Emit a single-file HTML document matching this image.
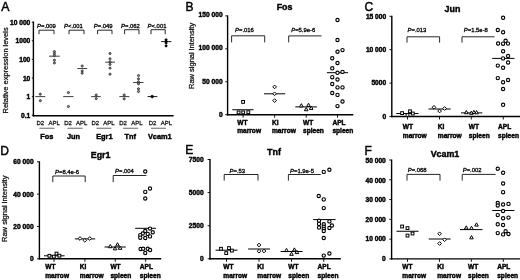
<!DOCTYPE html>
<html lang="en">
<head>
<meta charset="utf-8">
<title>Figure</title>
<style>
html,body{margin:0;padding:0;background:#fff;}
body{width:520px;height:280px;overflow:hidden;}
svg{display:block;}
svg text{font-family:'Liberation Sans', Arial, sans-serif;}
</style>
</head>
<body>
<svg width="520" height="280" viewBox="0 0 520 280">
<defs><filter id="soft" x="0" y="0" width="520" height="280" filterUnits="userSpaceOnUse"><feGaussianBlur stdDeviation="0.3"/></filter></defs>
<rect x="0" y="0" width="520" height="280" fill="#fff"/>
<g filter="url(#soft)">
<text x="1.30" y="10.70" font-size="12.3" font-weight="normal" text-anchor="start" fill="#000" stroke="#000" stroke-width="0.45">A</text>
<line x1="33.40" y1="21.50" x2="33.40" y2="116.40" stroke="#000" stroke-width="1.4" stroke-linecap="butt"/>
<line x1="32.70" y1="115.70" x2="173.60" y2="115.70" stroke="#000" stroke-width="1.4" stroke-linecap="butt"/>
<line x1="31.80" y1="115.20" x2="33.40" y2="115.20" stroke="#000" stroke-width="0.9" stroke-linecap="butt"/>
<text x="30.30" y="117.85" font-size="6.65" font-weight="bold" text-anchor="end" fill="#000" stroke="#000" stroke-width="0.42">0.1</text>
<line x1="31.80" y1="96.60" x2="33.40" y2="96.60" stroke="#000" stroke-width="0.9" stroke-linecap="butt"/>
<text x="30.30" y="99.25" font-size="6.65" font-weight="bold" text-anchor="end" fill="#000" stroke="#000" stroke-width="0.42">1</text>
<line x1="31.80" y1="78.00" x2="33.40" y2="78.00" stroke="#000" stroke-width="0.9" stroke-linecap="butt"/>
<text x="30.30" y="80.65" font-size="6.65" font-weight="bold" text-anchor="end" fill="#000" stroke="#000" stroke-width="0.42">10</text>
<line x1="31.80" y1="59.40" x2="33.40" y2="59.40" stroke="#000" stroke-width="0.9" stroke-linecap="butt"/>
<text x="30.30" y="62.05" font-size="6.65" font-weight="bold" text-anchor="end" fill="#000" stroke="#000" stroke-width="0.42">100</text>
<line x1="31.80" y1="40.80" x2="33.40" y2="40.80" stroke="#000" stroke-width="0.9" stroke-linecap="butt"/>
<text x="30.30" y="43.45" font-size="6.65" font-weight="bold" text-anchor="end" fill="#000" stroke="#000" stroke-width="0.42">1000</text>
<line x1="31.80" y1="22.20" x2="33.40" y2="22.20" stroke="#000" stroke-width="0.9" stroke-linecap="butt"/>
<text x="30.30" y="24.85" font-size="6.65" font-weight="bold" text-anchor="end" fill="#000" stroke="#000" stroke-width="0.42">10 000</text>
<text x="7.60" y="70.40" font-size="7.45" font-weight="normal" text-anchor="middle" fill="#111" stroke="#111" stroke-width="0.26" transform="rotate(-90 7.60 70.40)">Relative expression levels</text>
<polyline points="39.00,34.20 39.00,30.20 54.00,30.20 54.00,34.20" fill="none" stroke="#000" stroke-width="0.85" stroke-linejoin="miter"/>
<text x="37.00" y="27.60" font-size="5.9" fill="#000" stroke="#000" stroke-width="0.3"><tspan font-style="italic">P</tspan>=.009</text>
<polyline points="69.00,34.20 69.00,30.20 84.00,30.20 84.00,34.20" fill="none" stroke="#000" stroke-width="0.85" stroke-linejoin="miter"/>
<text x="64.00" y="27.60" font-size="5.9" fill="#000" stroke="#000" stroke-width="0.3"><tspan font-style="italic">P</tspan>&lt;.001</text>
<polyline points="97.60,34.20 97.60,30.20 112.00,30.20 112.00,34.20" fill="none" stroke="#000" stroke-width="0.85" stroke-linejoin="miter"/>
<text x="93.80" y="27.60" font-size="5.9" fill="#000" stroke="#000" stroke-width="0.3"><tspan font-style="italic">P</tspan>=.049</text>
<polyline points="124.60,34.20 124.60,29.70 139.00,29.70 139.00,34.20" fill="none" stroke="#000" stroke-width="0.85" stroke-linejoin="miter"/>
<text x="121.00" y="28.00" font-size="5.9" fill="#000" stroke="#000" stroke-width="0.3"><tspan font-style="italic">P</tspan>=.062</text>
<polyline points="151.00,34.20 151.00,29.70 165.20,29.70 165.20,34.20" fill="none" stroke="#000" stroke-width="0.85" stroke-linejoin="miter"/>
<text x="147.60" y="28.00" font-size="5.9" fill="#000" stroke="#000" stroke-width="0.3"><tspan font-style="italic">P</tspan>&lt;.001</text>
<text x="40.30" y="124.70" font-size="6.0" font-weight="normal" text-anchor="middle" fill="#111" stroke="#111" stroke-width="0.26">D2</text>
<text x="68.10" y="124.70" font-size="6.0" font-weight="normal" text-anchor="middle" fill="#111" stroke="#111" stroke-width="0.26">D2</text>
<text x="95.30" y="124.70" font-size="6.0" font-weight="normal" text-anchor="middle" fill="#111" stroke="#111" stroke-width="0.26">D2</text>
<text x="123.10" y="124.70" font-size="6.0" font-weight="normal" text-anchor="middle" fill="#111" stroke="#111" stroke-width="0.26">D2</text>
<text x="152.60" y="124.70" font-size="6.0" font-weight="normal" text-anchor="middle" fill="#111" stroke="#111" stroke-width="0.26">D2</text>
<text x="54.10" y="124.70" font-size="6.0" font-weight="normal" text-anchor="middle" fill="#111" stroke="#111" stroke-width="0.26">APL</text>
<text x="81.70" y="124.70" font-size="6.0" font-weight="normal" text-anchor="middle" fill="#111" stroke="#111" stroke-width="0.26">APL</text>
<text x="108.90" y="124.70" font-size="6.0" font-weight="normal" text-anchor="middle" fill="#111" stroke="#111" stroke-width="0.26">APL</text>
<text x="136.80" y="124.70" font-size="6.0" font-weight="normal" text-anchor="middle" fill="#111" stroke="#111" stroke-width="0.26">APL</text>
<text x="166.40" y="124.70" font-size="6.0" font-weight="normal" text-anchor="middle" fill="#111" stroke="#111" stroke-width="0.26">APL</text>
<line x1="39.40" y1="128.25" x2="54.40" y2="128.25" stroke="#111" stroke-width="0.65" stroke-linecap="butt"/>
<line x1="67.50" y1="128.25" x2="82.50" y2="128.25" stroke="#111" stroke-width="0.65" stroke-linecap="butt"/>
<line x1="96.50" y1="128.25" x2="111.30" y2="128.25" stroke="#111" stroke-width="0.65" stroke-linecap="butt"/>
<line x1="123.10" y1="128.25" x2="138.10" y2="128.25" stroke="#111" stroke-width="0.65" stroke-linecap="butt"/>
<line x1="151.20" y1="128.25" x2="166.00" y2="128.25" stroke="#111" stroke-width="0.65" stroke-linecap="butt"/>
<text x="46.90" y="138.60" font-size="7.4" font-weight="bold" text-anchor="middle" fill="#000" stroke="#000" stroke-width="0.42">Fos</text>
<text x="73.50" y="138.60" font-size="7.4" font-weight="bold" text-anchor="middle" fill="#000" stroke="#000" stroke-width="0.42">Jun</text>
<text x="104.40" y="138.60" font-size="7.4" font-weight="bold" text-anchor="middle" fill="#000" stroke="#000" stroke-width="0.42">Egr1</text>
<text x="130.20" y="138.60" font-size="7.4" font-weight="bold" text-anchor="middle" fill="#000" stroke="#000" stroke-width="0.42">Tnf</text>
<text x="159.80" y="138.60" font-size="7.4" font-weight="bold" text-anchor="middle" fill="#000" stroke="#000" stroke-width="0.42">Vcam1</text>
<line x1="35.20" y1="96.60" x2="45.30" y2="96.60" stroke="#2a2a2a" stroke-width="0.9" stroke-linecap="butt"/>
<circle cx="40.30" cy="94.20" r="1.1" fill="#808080" stroke="#222" stroke-width="0.7"/>
<circle cx="40.30" cy="100.70" r="1.1" fill="#808080" stroke="#222" stroke-width="0.7"/>
<line x1="49.00" y1="56.20" x2="59.80" y2="56.20" stroke="#2a2a2a" stroke-width="0.9" stroke-linecap="butt"/>
<circle cx="54.40" cy="51.60" r="1.1" fill="#808080" stroke="#222" stroke-width="0.7"/>
<circle cx="54.40" cy="53.60" r="1.1" fill="#808080" stroke="#222" stroke-width="0.7"/>
<circle cx="54.40" cy="55.60" r="1.1" fill="#808080" stroke="#222" stroke-width="0.7"/>
<circle cx="54.40" cy="60.20" r="1.1" fill="#808080" stroke="#222" stroke-width="0.7"/>
<circle cx="54.40" cy="62.90" r="1.1" fill="#808080" stroke="#222" stroke-width="0.7"/>
<line x1="63.20" y1="96.60" x2="73.50" y2="96.60" stroke="#2a2a2a" stroke-width="0.9" stroke-linecap="butt"/>
<circle cx="68.40" cy="92.60" r="1.1" fill="#808080" stroke="#222" stroke-width="0.7"/>
<circle cx="68.40" cy="106.50" r="1.1" fill="#808080" stroke="#222" stroke-width="0.7"/>
<line x1="77.30" y1="68.50" x2="87.20" y2="68.50" stroke="#2a2a2a" stroke-width="0.9" stroke-linecap="butt"/>
<circle cx="82.20" cy="66.00" r="1.1" fill="#808080" stroke="#222" stroke-width="0.7"/>
<circle cx="82.20" cy="71.00" r="1.1" fill="#808080" stroke="#222" stroke-width="0.7"/>
<circle cx="82.20" cy="73.20" r="1.1" fill="#808080" stroke="#222" stroke-width="0.7"/>
<line x1="91.20" y1="96.60" x2="100.80" y2="96.60" stroke="#2a2a2a" stroke-width="0.9" stroke-linecap="butt"/>
<circle cx="96.20" cy="95.00" r="1.1" fill="#808080" stroke="#222" stroke-width="0.7"/>
<circle cx="96.20" cy="98.60" r="1.1" fill="#808080" stroke="#222" stroke-width="0.7"/>
<line x1="105.20" y1="62.20" x2="115.00" y2="62.20" stroke="#2a2a2a" stroke-width="0.9" stroke-linecap="butt"/>
<circle cx="110.00" cy="53.50" r="1.1" fill="#808080" stroke="#222" stroke-width="0.7"/>
<circle cx="110.00" cy="58.80" r="1.1" fill="#808080" stroke="#222" stroke-width="0.7"/>
<circle cx="110.00" cy="61.80" r="1.1" fill="#808080" stroke="#222" stroke-width="0.7"/>
<circle cx="110.00" cy="64.40" r="1.1" fill="#808080" stroke="#222" stroke-width="0.7"/>
<circle cx="110.00" cy="68.10" r="1.1" fill="#808080" stroke="#222" stroke-width="0.7"/>
<circle cx="110.00" cy="74.20" r="1.1" fill="#808080" stroke="#222" stroke-width="0.7"/>
<line x1="119.40" y1="96.60" x2="129.40" y2="96.60" stroke="#2a2a2a" stroke-width="0.9" stroke-linecap="butt"/>
<circle cx="124.20" cy="95.00" r="1.1" fill="#808080" stroke="#222" stroke-width="0.7"/>
<circle cx="124.20" cy="98.80" r="1.1" fill="#808080" stroke="#222" stroke-width="0.7"/>
<line x1="133.10" y1="82.50" x2="143.50" y2="82.50" stroke="#2a2a2a" stroke-width="0.9" stroke-linecap="butt"/>
<circle cx="138.50" cy="75.60" r="1.1" fill="#808080" stroke="#222" stroke-width="0.7"/>
<circle cx="138.50" cy="78.80" r="1.1" fill="#808080" stroke="#222" stroke-width="0.7"/>
<circle cx="138.50" cy="81.80" r="1.1" fill="#808080" stroke="#222" stroke-width="0.7"/>
<circle cx="138.50" cy="83.80" r="1.1" fill="#808080" stroke="#222" stroke-width="0.7"/>
<circle cx="138.50" cy="88.80" r="1.1" fill="#808080" stroke="#222" stroke-width="0.7"/>
<circle cx="138.50" cy="91.50" r="1.1" fill="#808080" stroke="#222" stroke-width="0.7"/>
<line x1="147.50" y1="96.60" x2="157.30" y2="96.60" stroke="#000" stroke-width="0.9" stroke-linecap="butt"/>
<circle cx="152.20" cy="96.60" r="1.3" fill="#000" stroke="#000" stroke-width="0.7"/>
<line x1="161.20" y1="41.60" x2="171.30" y2="41.60" stroke="#000" stroke-width="0.9" stroke-linecap="butt"/>
<circle cx="166.10" cy="39.80" r="1.1" fill="#000" stroke="#000" stroke-width="0.7"/>
<circle cx="166.10" cy="41.40" r="1.1" fill="#000" stroke="#000" stroke-width="0.7"/>
<circle cx="166.10" cy="43.00" r="1.1" fill="#000" stroke="#000" stroke-width="0.7"/>
<circle cx="166.10" cy="45.90" r="1.1" fill="#000" stroke="#000" stroke-width="0.7"/>
<text x="185.60" y="10.50" font-size="12.0" font-weight="normal" text-anchor="start" fill="#000" stroke="#000" stroke-width="0.45">B</text>
<text x="284.60" y="10.00" font-size="8.9" font-weight="bold" text-anchor="middle" fill="#000" stroke="#000" stroke-width="0.42">Fos</text>
<line x1="227.60" y1="15.40" x2="227.60" y2="115.40" stroke="#000" stroke-width="1.4" stroke-linecap="butt"/>
<line x1="226.90" y1="114.70" x2="353.30" y2="114.70" stroke="#000" stroke-width="1.4" stroke-linecap="butt"/>
<line x1="225.20" y1="114.70" x2="227.60" y2="114.70" stroke="#000" stroke-width="0.9" stroke-linecap="butt"/>
<text x="222.60" y="117.00" font-size="6.65" font-weight="bold" text-anchor="end" fill="#000" stroke="#000" stroke-width="0.42">0</text>
<line x1="225.20" y1="81.77" x2="227.60" y2="81.77" stroke="#000" stroke-width="0.9" stroke-linecap="butt"/>
<text x="222.60" y="83.73" font-size="6.65" font-weight="bold" text-anchor="end" fill="#000" stroke="#000" stroke-width="0.42">50 000</text>
<line x1="225.20" y1="48.83" x2="227.60" y2="48.83" stroke="#000" stroke-width="0.9" stroke-linecap="butt"/>
<text x="222.60" y="50.47" font-size="6.65" font-weight="bold" text-anchor="end" fill="#000" stroke="#000" stroke-width="0.42">100 000</text>
<line x1="225.20" y1="15.90" x2="227.60" y2="15.90" stroke="#000" stroke-width="0.9" stroke-linecap="butt"/>
<text x="222.60" y="17.20" font-size="6.65" font-weight="bold" text-anchor="end" fill="#000" stroke="#000" stroke-width="0.42">150 000</text>
<line x1="243.10" y1="114.70" x2="243.10" y2="117.70" stroke="#000" stroke-width="0.9" stroke-linecap="butt"/>
<line x1="274.60" y1="114.70" x2="274.60" y2="117.70" stroke="#000" stroke-width="0.9" stroke-linecap="butt"/>
<line x1="306.20" y1="114.70" x2="306.20" y2="117.70" stroke="#000" stroke-width="0.9" stroke-linecap="butt"/>
<line x1="337.50" y1="114.70" x2="337.50" y2="117.70" stroke="#000" stroke-width="0.9" stroke-linecap="butt"/>
<text x="237.20" y="124.90" font-size="6.6" font-weight="bold" text-anchor="start" fill="#000" stroke="#000" stroke-width="0.42">WT</text>
<text x="237.20" y="133.30" font-size="6.6" font-weight="bold" text-anchor="start" fill="#000" stroke="#000" stroke-width="0.42">marrow</text>
<text x="272.00" y="124.90" font-size="6.6" font-weight="bold" text-anchor="start" fill="#000" stroke="#000" stroke-width="0.42">KI</text>
<text x="272.00" y="133.30" font-size="6.6" font-weight="bold" text-anchor="start" fill="#000" stroke="#000" stroke-width="0.42">marrow</text>
<text x="303.00" y="124.90" font-size="6.6" font-weight="bold" text-anchor="start" fill="#000" stroke="#000" stroke-width="0.42">WT</text>
<text x="303.00" y="133.30" font-size="6.6" font-weight="bold" text-anchor="start" fill="#000" stroke="#000" stroke-width="0.42">spleen</text>
<text x="332.40" y="124.90" font-size="6.6" font-weight="bold" text-anchor="start" fill="#000" stroke="#000" stroke-width="0.42">APL</text>
<text x="332.40" y="133.30" font-size="6.6" font-weight="bold" text-anchor="start" fill="#000" stroke="#000" stroke-width="0.42">spleen</text>
<text x="193.60" y="55.90" font-size="7.45" font-weight="normal" text-anchor="middle" fill="#111" stroke="#111" stroke-width="0.26" transform="rotate(-90 193.60 55.90)" textLength="66.20" lengthAdjust="spacingAndGlyphs">Raw signal intensity</text>
<text x="235.00" y="31.90" font-size="5.9" fill="#000" stroke="#000" stroke-width="0.3"><tspan font-style="italic">P</tspan>=.016</text>
<polyline points="231.60,42.40 231.60,35.80 264.70,35.80 264.70,42.40" fill="none" stroke="#000" stroke-width="0.85" stroke-linejoin="miter"/>
<text x="291.20" y="31.90" font-size="5.9" fill="#000" stroke="#000" stroke-width="0.3"><tspan font-style="italic">P</tspan>=5.9e-6</text>
<polyline points="288.70,42.40 288.70,35.90 321.50,35.90" fill="none" stroke="#000" stroke-width="0.85" stroke-linejoin="miter"/>
<line x1="232.30" y1="109.75" x2="253.50" y2="109.75" stroke="#000" stroke-width="1.0" stroke-linecap="butt"/>
<rect x="241.70" y="100.50" width="2.8" height="2.8" fill="#fff" stroke="#000" stroke-width="1.0"/>
<rect x="237.20" y="111.00" width="2.8" height="2.8" fill="#fff" stroke="#000" stroke-width="1.0"/>
<rect x="241.80" y="111.00" width="2.8" height="2.8" fill="#fff" stroke="#000" stroke-width="1.0"/>
<rect x="246.90" y="110.80" width="2.8" height="2.8" fill="#fff" stroke="#000" stroke-width="1.0"/>
<line x1="264.00" y1="93.80" x2="285.20" y2="93.80" stroke="#000" stroke-width="1.0" stroke-linecap="butt"/>
<polygon points="274.60,85.05 276.45,86.90 274.60,88.75 272.75,86.90" fill="#fff" stroke="#000" stroke-width="1.0"/>
<polygon points="274.60,91.95 276.45,93.80 274.60,95.65 272.75,93.80" fill="#fff" stroke="#000" stroke-width="1.0"/>
<polygon points="274.60,98.75 276.45,100.60 274.60,102.45 272.75,100.60" fill="#fff" stroke="#000" stroke-width="1.0"/>
<line x1="295.30" y1="106.90" x2="316.90" y2="106.90" stroke="#000" stroke-width="1.0" stroke-linecap="butt"/>
<polygon points="301.30,103.70 303.11,106.93 299.50,106.93" fill="#fff" stroke="#000" stroke-width="1.0"/>
<polygon points="308.50,103.20 310.31,106.43 306.69,106.43" fill="#fff" stroke="#000" stroke-width="1.0"/>
<polygon points="306.20,107.50 308.00,110.73 304.39,110.73" fill="#fff" stroke="#000" stroke-width="1.0"/>
<polygon points="311.20,106.20 313.00,109.43 309.39,109.43" fill="#fff" stroke="#000" stroke-width="1.0"/>
<line x1="326.90" y1="72.70" x2="348.10" y2="72.70" stroke="#000" stroke-width="1.0" stroke-linecap="butt"/>
<circle cx="337.50" cy="20.00" r="1.65" fill="#fff" stroke="#000" stroke-width="1.1"/>
<circle cx="337.50" cy="40.00" r="1.65" fill="#fff" stroke="#000" stroke-width="1.1"/>
<circle cx="342.50" cy="50.10" r="1.65" fill="#fff" stroke="#000" stroke-width="1.1"/>
<circle cx="337.50" cy="51.75" r="1.65" fill="#fff" stroke="#000" stroke-width="1.1"/>
<circle cx="332.25" cy="58.25" r="1.65" fill="#fff" stroke="#000" stroke-width="1.1"/>
<circle cx="337.50" cy="63.00" r="1.65" fill="#fff" stroke="#000" stroke-width="1.1"/>
<circle cx="332.25" cy="68.30" r="1.65" fill="#fff" stroke="#000" stroke-width="1.1"/>
<circle cx="337.50" cy="72.80" r="1.65" fill="#fff" stroke="#000" stroke-width="1.1"/>
<circle cx="342.50" cy="71.90" r="1.65" fill="#fff" stroke="#000" stroke-width="1.1"/>
<circle cx="332.25" cy="77.20" r="1.65" fill="#fff" stroke="#000" stroke-width="1.1"/>
<circle cx="337.50" cy="79.50" r="1.65" fill="#fff" stroke="#000" stroke-width="1.1"/>
<circle cx="332.25" cy="84.00" r="1.65" fill="#fff" stroke="#000" stroke-width="1.1"/>
<circle cx="337.50" cy="87.40" r="1.65" fill="#fff" stroke="#000" stroke-width="1.1"/>
<circle cx="342.50" cy="87.40" r="1.65" fill="#fff" stroke="#000" stroke-width="1.1"/>
<circle cx="332.25" cy="93.00" r="1.65" fill="#fff" stroke="#000" stroke-width="1.1"/>
<circle cx="337.50" cy="94.90" r="1.65" fill="#fff" stroke="#000" stroke-width="1.1"/>
<circle cx="342.50" cy="101.50" r="1.65" fill="#fff" stroke="#000" stroke-width="1.1"/>
<circle cx="337.50" cy="106.10" r="1.65" fill="#fff" stroke="#000" stroke-width="1.1"/>
<text x="364.60" y="11.00" font-size="12.0" font-weight="normal" text-anchor="start" fill="#000" stroke="#000" stroke-width="0.45">C</text>
<text x="452.50" y="12.30" font-size="8.9" font-weight="bold" text-anchor="middle" fill="#000" stroke="#000" stroke-width="0.42">Jun</text>
<line x1="391.80" y1="15.80" x2="391.80" y2="117.20" stroke="#000" stroke-width="1.4" stroke-linecap="butt"/>
<line x1="391.10" y1="116.50" x2="520.00" y2="116.50" stroke="#000" stroke-width="1.4" stroke-linecap="butt"/>
<line x1="389.40" y1="116.50" x2="391.80" y2="116.50" stroke="#000" stroke-width="0.9" stroke-linecap="butt"/>
<text x="386.20" y="118.80" font-size="6.65" font-weight="bold" text-anchor="end" fill="#000" stroke="#000" stroke-width="0.42">0</text>
<line x1="389.40" y1="83.10" x2="391.80" y2="83.10" stroke="#000" stroke-width="0.9" stroke-linecap="butt"/>
<text x="386.20" y="85.40" font-size="6.65" font-weight="bold" text-anchor="end" fill="#000" stroke="#000" stroke-width="0.42">5000</text>
<line x1="389.40" y1="49.70" x2="391.80" y2="49.70" stroke="#000" stroke-width="0.9" stroke-linecap="butt"/>
<text x="386.20" y="52.00" font-size="6.65" font-weight="bold" text-anchor="end" fill="#000" stroke="#000" stroke-width="0.42">10 000</text>
<line x1="389.40" y1="16.30" x2="391.80" y2="16.30" stroke="#000" stroke-width="0.9" stroke-linecap="butt"/>
<text x="386.20" y="18.60" font-size="6.65" font-weight="bold" text-anchor="end" fill="#000" stroke="#000" stroke-width="0.42">15 000</text>
<line x1="407.50" y1="116.50" x2="407.50" y2="119.50" stroke="#000" stroke-width="0.9" stroke-linecap="butt"/>
<line x1="439.50" y1="116.50" x2="439.50" y2="119.50" stroke="#000" stroke-width="0.9" stroke-linecap="butt"/>
<line x1="471.30" y1="116.50" x2="471.30" y2="119.50" stroke="#000" stroke-width="0.9" stroke-linecap="butt"/>
<line x1="503.30" y1="116.50" x2="503.30" y2="119.50" stroke="#000" stroke-width="0.9" stroke-linecap="butt"/>
<text x="402.80" y="129.20" font-size="6.6" font-weight="bold" text-anchor="start" fill="#000" stroke="#000" stroke-width="0.42">WT</text>
<text x="402.80" y="137.60" font-size="6.6" font-weight="bold" text-anchor="start" fill="#000" stroke="#000" stroke-width="0.42">marrow</text>
<text x="437.80" y="129.20" font-size="6.6" font-weight="bold" text-anchor="start" fill="#000" stroke="#000" stroke-width="0.42">KI</text>
<text x="437.80" y="137.60" font-size="6.6" font-weight="bold" text-anchor="start" fill="#000" stroke="#000" stroke-width="0.42">marrow</text>
<text x="468.80" y="129.20" font-size="6.6" font-weight="bold" text-anchor="start" fill="#000" stroke="#000" stroke-width="0.42">WT</text>
<text x="468.80" y="137.60" font-size="6.6" font-weight="bold" text-anchor="start" fill="#000" stroke="#000" stroke-width="0.42">spleen</text>
<text x="498.10" y="129.20" font-size="6.6" font-weight="bold" text-anchor="start" fill="#000" stroke="#000" stroke-width="0.42">APL</text>
<text x="498.10" y="137.60" font-size="6.6" font-weight="bold" text-anchor="start" fill="#000" stroke="#000" stroke-width="0.42">spleen</text>
<text x="407.50" y="32.00" font-size="5.9" fill="#000" stroke="#000" stroke-width="0.3"><tspan font-style="italic">P</tspan>=.013</text>
<polyline points="407.00,42.60 407.00,36.80 439.60,36.80 439.60,42.60" fill="none" stroke="#000" stroke-width="0.85" stroke-linejoin="miter"/>
<text x="463.80" y="32.00" font-size="5.9" fill="#000" stroke="#000" stroke-width="0.3"><tspan font-style="italic">P</tspan>=1.5e-8</text>
<polyline points="462.00,42.60 462.00,36.80 494.60,36.80" fill="none" stroke="#000" stroke-width="0.85" stroke-linejoin="miter"/>
<line x1="396.30" y1="113.50" x2="418.50" y2="113.50" stroke="#000" stroke-width="1.0" stroke-linecap="butt"/>
<rect x="400.70" y="111.70" width="2.8" height="2.8" fill="#fff" stroke="#000" stroke-width="1.0"/>
<rect x="406.10" y="113.60" width="2.8" height="2.8" fill="#fff" stroke="#000" stroke-width="1.0"/>
<rect x="408.60" y="109.90" width="2.8" height="2.8" fill="#fff" stroke="#000" stroke-width="1.0"/>
<rect x="411.40" y="112.10" width="2.8" height="2.8" fill="#fff" stroke="#000" stroke-width="1.0"/>
<line x1="428.50" y1="109.00" x2="450.60" y2="109.00" stroke="#000" stroke-width="1.0" stroke-linecap="butt"/>
<polygon points="434.00,105.45 435.85,107.30 434.00,109.15 432.15,107.30" fill="#fff" stroke="#000" stroke-width="1.0"/>
<polygon points="439.60,109.15 441.45,111.00 439.60,112.85 437.75,111.00" fill="#fff" stroke="#000" stroke-width="1.0"/>
<polygon points="444.60,106.65 446.45,108.50 444.60,110.35 442.75,108.50" fill="#fff" stroke="#000" stroke-width="1.0"/>
<line x1="461.00" y1="112.90" x2="482.30" y2="112.90" stroke="#000" stroke-width="1.0" stroke-linecap="butt"/>
<polygon points="466.30,110.50 468.11,113.73 464.50,113.73" fill="#fff" stroke="#000" stroke-width="1.0"/>
<polygon points="471.30,111.10 473.11,114.33 469.50,114.33" fill="#fff" stroke="#000" stroke-width="1.0"/>
<polygon points="473.90,110.30 475.70,113.53 472.09,113.53" fill="#fff" stroke="#000" stroke-width="1.0"/>
<polygon points="476.60,110.60 478.41,113.83 474.80,113.83" fill="#fff" stroke="#000" stroke-width="1.0"/>
<line x1="492.20" y1="58.40" x2="514.40" y2="58.40" stroke="#000" stroke-width="1.0" stroke-linecap="butt"/>
<circle cx="503.10" cy="17.75" r="1.65" fill="#fff" stroke="#000" stroke-width="1.1"/>
<circle cx="497.80" cy="30.00" r="1.65" fill="#fff" stroke="#000" stroke-width="1.1"/>
<circle cx="503.10" cy="32.25" r="1.65" fill="#fff" stroke="#000" stroke-width="1.1"/>
<circle cx="498.10" cy="43.50" r="1.65" fill="#fff" stroke="#000" stroke-width="1.1"/>
<circle cx="503.10" cy="43.70" r="1.65" fill="#fff" stroke="#000" stroke-width="1.1"/>
<circle cx="505.60" cy="40.80" r="1.65" fill="#fff" stroke="#000" stroke-width="1.1"/>
<circle cx="508.00" cy="43.60" r="1.65" fill="#fff" stroke="#000" stroke-width="1.1"/>
<circle cx="503.10" cy="51.25" r="1.65" fill="#fff" stroke="#000" stroke-width="1.1"/>
<circle cx="503.10" cy="58.40" r="1.65" fill="#fff" stroke="#000" stroke-width="1.1"/>
<circle cx="508.10" cy="56.00" r="1.65" fill="#fff" stroke="#000" stroke-width="1.1"/>
<circle cx="508.10" cy="62.50" r="1.65" fill="#fff" stroke="#000" stroke-width="1.1"/>
<circle cx="497.80" cy="65.60" r="1.65" fill="#fff" stroke="#000" stroke-width="1.1"/>
<circle cx="503.10" cy="67.75" r="1.65" fill="#fff" stroke="#000" stroke-width="1.1"/>
<circle cx="497.80" cy="78.10" r="1.65" fill="#fff" stroke="#000" stroke-width="1.1"/>
<circle cx="503.10" cy="82.25" r="1.65" fill="#fff" stroke="#000" stroke-width="1.1"/>
<circle cx="508.10" cy="80.00" r="1.65" fill="#fff" stroke="#000" stroke-width="1.1"/>
<circle cx="503.10" cy="89.00" r="1.65" fill="#fff" stroke="#000" stroke-width="1.1"/>
<circle cx="503.10" cy="104.80" r="1.65" fill="#fff" stroke="#000" stroke-width="1.1"/>
<text x="0.30" y="154.50" font-size="12.0" font-weight="normal" text-anchor="start" fill="#000" stroke="#000" stroke-width="0.45">D</text>
<text x="100.60" y="157.60" font-size="8.9" font-weight="bold" text-anchor="middle" fill="#000" stroke="#000" stroke-width="0.42">Egr1</text>
<line x1="39.40" y1="161.30" x2="39.40" y2="259.50" stroke="#000" stroke-width="1.4" stroke-linecap="butt"/>
<line x1="38.70" y1="258.80" x2="161.20" y2="258.80" stroke="#000" stroke-width="1.4" stroke-linecap="butt"/>
<line x1="37.00" y1="258.80" x2="39.40" y2="258.80" stroke="#000" stroke-width="0.9" stroke-linecap="butt"/>
<text x="33.60" y="261.40" font-size="6.65" font-weight="bold" text-anchor="end" fill="#000" stroke="#000" stroke-width="0.42">0</text>
<line x1="37.00" y1="226.47" x2="39.40" y2="226.47" stroke="#000" stroke-width="0.9" stroke-linecap="butt"/>
<text x="33.60" y="229.07" font-size="6.65" font-weight="bold" text-anchor="end" fill="#000" stroke="#000" stroke-width="0.42">20 000</text>
<line x1="37.00" y1="194.13" x2="39.40" y2="194.13" stroke="#000" stroke-width="0.9" stroke-linecap="butt"/>
<text x="33.60" y="196.73" font-size="6.65" font-weight="bold" text-anchor="end" fill="#000" stroke="#000" stroke-width="0.42">40 000</text>
<line x1="37.00" y1="161.80" x2="39.40" y2="161.80" stroke="#000" stroke-width="0.9" stroke-linecap="butt"/>
<text x="33.60" y="164.40" font-size="6.65" font-weight="bold" text-anchor="end" fill="#000" stroke="#000" stroke-width="0.42">60 000</text>
<line x1="54.00" y1="258.80" x2="54.00" y2="261.80" stroke="#000" stroke-width="0.9" stroke-linecap="butt"/>
<line x1="84.90" y1="258.80" x2="84.90" y2="261.80" stroke="#000" stroke-width="0.9" stroke-linecap="butt"/>
<line x1="115.30" y1="258.80" x2="115.30" y2="261.80" stroke="#000" stroke-width="0.9" stroke-linecap="butt"/>
<line x1="145.70" y1="258.80" x2="145.70" y2="261.80" stroke="#000" stroke-width="0.9" stroke-linecap="butt"/>
<text x="45.20" y="269.20" font-size="6.6" font-weight="bold" text-anchor="start" fill="#000" stroke="#000" stroke-width="0.42">WT</text>
<text x="45.20" y="277.70" font-size="6.6" font-weight="bold" text-anchor="start" fill="#000" stroke="#000" stroke-width="0.42">marrow</text>
<text x="79.80" y="269.20" font-size="6.6" font-weight="bold" text-anchor="start" fill="#000" stroke="#000" stroke-width="0.42">KI</text>
<text x="79.80" y="277.70" font-size="6.6" font-weight="bold" text-anchor="start" fill="#000" stroke="#000" stroke-width="0.42">marrow</text>
<text x="110.40" y="269.20" font-size="6.6" font-weight="bold" text-anchor="start" fill="#000" stroke="#000" stroke-width="0.42">WT</text>
<text x="110.40" y="277.70" font-size="6.6" font-weight="bold" text-anchor="start" fill="#000" stroke="#000" stroke-width="0.42">spleen</text>
<text x="139.80" y="269.20" font-size="6.6" font-weight="bold" text-anchor="start" fill="#000" stroke="#000" stroke-width="0.42">APL</text>
<text x="139.80" y="277.70" font-size="6.6" font-weight="bold" text-anchor="start" fill="#000" stroke="#000" stroke-width="0.42">spleen</text>
<text x="7.00" y="208.80" font-size="7.5" font-weight="normal" text-anchor="middle" fill="#111" stroke="#111" stroke-width="0.26" transform="rotate(-90 7.00 208.80)" textLength="66.40" lengthAdjust="spacingAndGlyphs">Raw signal intensity</text>
<text x="55.00" y="173.60" font-size="5.9" fill="#000" stroke="#000" stroke-width="0.3"><tspan font-style="italic">P</tspan>=8.4e-6</text>
<polyline points="52.80,182.20 52.80,176.00 85.20,176.00 85.20,182.20" fill="none" stroke="#000" stroke-width="0.85" stroke-linejoin="miter"/>
<text x="115.00" y="173.40" font-size="5.9" fill="#000" stroke="#000" stroke-width="0.3"><tspan font-style="italic">P</tspan>=.004</text>
<polyline points="113.20,182.20 113.20,175.50 146.30,175.50" fill="none" stroke="#000" stroke-width="0.85" stroke-linejoin="miter"/>
<line x1="44.00" y1="255.80" x2="64.60" y2="255.80" stroke="#000" stroke-width="1.0" stroke-linecap="butt"/>
<rect x="48.00" y="254.40" width="2.8" height="2.8" fill="#fff" stroke="#000" stroke-width="1.0"/>
<rect x="52.40" y="255.20" width="2.8" height="2.8" fill="#fff" stroke="#000" stroke-width="1.0"/>
<rect x="55.10" y="252.20" width="2.8" height="2.8" fill="#fff" stroke="#000" stroke-width="1.0"/>
<rect x="58.00" y="254.30" width="2.8" height="2.8" fill="#fff" stroke="#000" stroke-width="1.0"/>
<line x1="74.80" y1="238.90" x2="95.20" y2="238.90" stroke="#000" stroke-width="1.0" stroke-linecap="butt"/>
<polygon points="80.00,236.65 81.85,238.50 80.00,240.35 78.15,238.50" fill="#fff" stroke="#000" stroke-width="1.0"/>
<polygon points="84.80,238.45 86.65,240.30 84.80,242.15 82.95,240.30" fill="#fff" stroke="#000" stroke-width="1.0"/>
<polygon points="89.80,236.65 91.65,238.50 89.80,240.35 87.95,238.50" fill="#fff" stroke="#000" stroke-width="1.0"/>
<line x1="104.60" y1="247.00" x2="125.80" y2="247.00" stroke="#000" stroke-width="1.0" stroke-linecap="butt"/>
<polygon points="110.30,244.50 112.11,247.73 108.49,247.73" fill="#fff" stroke="#000" stroke-width="1.0"/>
<polygon points="115.00,246.60 116.81,249.83 113.19,249.83" fill="#fff" stroke="#000" stroke-width="1.0"/>
<polygon points="117.50,242.70 119.31,245.93 115.69,245.93" fill="#fff" stroke="#000" stroke-width="1.0"/>
<polygon points="120.10,246.10 121.91,249.33 118.29,249.33" fill="#fff" stroke="#000" stroke-width="1.0"/>
<line x1="135.20" y1="228.30" x2="156.00" y2="228.30" stroke="#000" stroke-width="1.0" stroke-linecap="butt"/>
<circle cx="145.25" cy="171.50" r="1.65" fill="#fff" stroke="#000" stroke-width="1.1"/>
<circle cx="150.00" cy="188.50" r="1.65" fill="#fff" stroke="#000" stroke-width="1.1"/>
<circle cx="145.25" cy="191.90" r="1.65" fill="#fff" stroke="#000" stroke-width="1.1"/>
<circle cx="145.25" cy="198.50" r="1.65" fill="#fff" stroke="#000" stroke-width="1.1"/>
<circle cx="150.00" cy="228.60" r="1.65" fill="#fff" stroke="#000" stroke-width="1.1"/>
<circle cx="145.25" cy="231.00" r="1.65" fill="#fff" stroke="#000" stroke-width="1.1"/>
<circle cx="152.75" cy="232.25" r="1.65" fill="#fff" stroke="#000" stroke-width="1.1"/>
<circle cx="142.75" cy="233.50" r="1.65" fill="#fff" stroke="#000" stroke-width="1.1"/>
<circle cx="147.75" cy="233.90" r="1.65" fill="#fff" stroke="#000" stroke-width="1.1"/>
<circle cx="140.25" cy="235.10" r="1.65" fill="#fff" stroke="#000" stroke-width="1.1"/>
<circle cx="150.00" cy="236.40" r="1.65" fill="#fff" stroke="#000" stroke-width="1.1"/>
<circle cx="140.25" cy="237.70" r="1.65" fill="#fff" stroke="#000" stroke-width="1.1"/>
<circle cx="145.25" cy="238.00" r="1.65" fill="#fff" stroke="#000" stroke-width="1.1"/>
<circle cx="140.60" cy="249.00" r="1.65" fill="#fff" stroke="#000" stroke-width="1.1"/>
<circle cx="143.20" cy="248.80" r="1.65" fill="#fff" stroke="#000" stroke-width="1.1"/>
<circle cx="147.75" cy="248.80" r="1.65" fill="#fff" stroke="#000" stroke-width="1.1"/>
<circle cx="150.10" cy="250.00" r="1.65" fill="#fff" stroke="#000" stroke-width="1.1"/>
<circle cx="145.25" cy="253.00" r="1.65" fill="#fff" stroke="#000" stroke-width="1.1"/>
<text x="185.20" y="154.00" font-size="12.0" font-weight="normal" text-anchor="start" fill="#000" stroke="#000" stroke-width="0.45">E</text>
<text x="274.00" y="154.70" font-size="8.9" font-weight="bold" text-anchor="middle" fill="#000" stroke="#000" stroke-width="0.42">Tnf</text>
<line x1="210.00" y1="159.00" x2="210.00" y2="259.50" stroke="#000" stroke-width="1.4" stroke-linecap="butt"/>
<line x1="209.30" y1="258.80" x2="340.80" y2="258.80" stroke="#000" stroke-width="1.4" stroke-linecap="butt"/>
<line x1="207.60" y1="258.80" x2="210.00" y2="258.80" stroke="#000" stroke-width="0.9" stroke-linecap="butt"/>
<text x="203.60" y="261.10" font-size="6.65" font-weight="bold" text-anchor="end" fill="#000" stroke="#000" stroke-width="0.42">0</text>
<line x1="207.60" y1="225.70" x2="210.00" y2="225.70" stroke="#000" stroke-width="0.9" stroke-linecap="butt"/>
<text x="203.60" y="228.00" font-size="6.65" font-weight="bold" text-anchor="end" fill="#000" stroke="#000" stroke-width="0.42">2500</text>
<line x1="207.60" y1="192.60" x2="210.00" y2="192.60" stroke="#000" stroke-width="0.9" stroke-linecap="butt"/>
<text x="203.60" y="194.90" font-size="6.65" font-weight="bold" text-anchor="end" fill="#000" stroke="#000" stroke-width="0.42">5000</text>
<line x1="207.60" y1="159.50" x2="210.00" y2="159.50" stroke="#000" stroke-width="0.9" stroke-linecap="butt"/>
<text x="203.60" y="161.80" font-size="6.65" font-weight="bold" text-anchor="end" fill="#000" stroke="#000" stroke-width="0.42">7500</text>
<line x1="226.50" y1="258.80" x2="226.50" y2="261.80" stroke="#000" stroke-width="0.9" stroke-linecap="butt"/>
<line x1="259.00" y1="258.80" x2="259.00" y2="261.80" stroke="#000" stroke-width="0.9" stroke-linecap="butt"/>
<line x1="291.50" y1="258.80" x2="291.50" y2="261.80" stroke="#000" stroke-width="0.9" stroke-linecap="butt"/>
<line x1="323.75" y1="258.80" x2="323.75" y2="261.80" stroke="#000" stroke-width="0.9" stroke-linecap="butt"/>
<text x="223.30" y="269.30" font-size="6.6" font-weight="bold" text-anchor="start" fill="#000" stroke="#000" stroke-width="0.42">WT</text>
<text x="223.30" y="278.20" font-size="6.6" font-weight="bold" text-anchor="start" fill="#000" stroke="#000" stroke-width="0.42">marrow</text>
<text x="257.30" y="269.30" font-size="6.6" font-weight="bold" text-anchor="start" fill="#000" stroke="#000" stroke-width="0.42">KI</text>
<text x="257.30" y="278.20" font-size="6.6" font-weight="bold" text-anchor="start" fill="#000" stroke="#000" stroke-width="0.42">marrow</text>
<text x="288.30" y="269.30" font-size="6.6" font-weight="bold" text-anchor="start" fill="#000" stroke="#000" stroke-width="0.42">WT</text>
<text x="288.30" y="278.20" font-size="6.6" font-weight="bold" text-anchor="start" fill="#000" stroke="#000" stroke-width="0.42">spleen</text>
<text x="317.60" y="269.30" font-size="6.6" font-weight="bold" text-anchor="start" fill="#000" stroke="#000" stroke-width="0.42">APL</text>
<text x="317.60" y="278.20" font-size="6.6" font-weight="bold" text-anchor="start" fill="#000" stroke="#000" stroke-width="0.42">spleen</text>
<text x="229.50" y="173.30" font-size="5.9" fill="#000" stroke="#000" stroke-width="0.3"><tspan font-style="italic">P</tspan>=.53</text>
<polyline points="224.20,180.60 224.20,174.50 258.00,174.50 258.00,180.60" fill="none" stroke="#000" stroke-width="0.85" stroke-linejoin="miter"/>
<text x="290.00" y="172.60" font-size="5.9" fill="#000" stroke="#000" stroke-width="0.3"><tspan font-style="italic">P</tspan>=1.9e-5</text>
<polyline points="288.40,180.60 288.40,174.50 320.80,174.50" fill="none" stroke="#000" stroke-width="0.85" stroke-linejoin="miter"/>
<line x1="215.60" y1="250.20" x2="237.50" y2="250.20" stroke="#000" stroke-width="1.0" stroke-linecap="butt"/>
<rect x="219.60" y="247.35" width="2.8" height="2.8" fill="#fff" stroke="#000" stroke-width="1.0"/>
<rect x="224.85" y="251.70" width="2.8" height="2.8" fill="#fff" stroke="#000" stroke-width="1.0"/>
<rect x="227.60" y="246.70" width="2.8" height="2.8" fill="#fff" stroke="#000" stroke-width="1.0"/>
<rect x="230.50" y="249.20" width="2.8" height="2.8" fill="#fff" stroke="#000" stroke-width="1.0"/>
<line x1="248.10" y1="249.00" x2="270.00" y2="249.00" stroke="#000" stroke-width="1.0" stroke-linecap="butt"/>
<polygon points="259.00,243.15 260.85,245.00 259.00,246.85 257.15,245.00" fill="#fff" stroke="#000" stroke-width="1.0"/>
<polygon points="259.00,249.35 260.85,251.20 259.00,253.05 257.15,251.20" fill="#fff" stroke="#000" stroke-width="1.0"/>
<polygon points="264.00,249.15 265.85,251.00 264.00,252.85 262.15,251.00" fill="#fff" stroke="#000" stroke-width="1.0"/>
<line x1="280.60" y1="251.50" x2="302.50" y2="251.50" stroke="#000" stroke-width="1.0" stroke-linecap="butt"/>
<polygon points="286.50,248.35 288.31,251.58 284.69,251.58" fill="#fff" stroke="#000" stroke-width="1.0"/>
<polygon points="291.50,252.10 293.31,255.33 289.69,255.33" fill="#fff" stroke="#000" stroke-width="1.0"/>
<polygon points="294.40,247.85 296.20,251.08 292.59,251.08" fill="#fff" stroke="#000" stroke-width="1.0"/>
<polygon points="296.90,250.35 298.70,253.58 295.09,253.58" fill="#fff" stroke="#000" stroke-width="1.0"/>
<line x1="313.10" y1="219.60" x2="335.60" y2="219.60" stroke="#000" stroke-width="1.0" stroke-linecap="butt"/>
<circle cx="323.75" cy="171.90" r="1.65" fill="#fff" stroke="#000" stroke-width="1.1"/>
<circle cx="329.40" cy="169.75" r="1.65" fill="#fff" stroke="#000" stroke-width="1.1"/>
<circle cx="318.75" cy="196.00" r="1.65" fill="#fff" stroke="#000" stroke-width="1.1"/>
<circle cx="323.75" cy="199.40" r="1.65" fill="#fff" stroke="#000" stroke-width="1.1"/>
<circle cx="323.75" cy="208.10" r="1.65" fill="#fff" stroke="#000" stroke-width="1.1"/>
<circle cx="319.00" cy="220.75" r="1.65" fill="#fff" stroke="#000" stroke-width="1.1"/>
<circle cx="329.40" cy="221.40" r="1.65" fill="#fff" stroke="#000" stroke-width="1.1"/>
<circle cx="319.00" cy="223.90" r="1.65" fill="#fff" stroke="#000" stroke-width="1.1"/>
<circle cx="323.75" cy="224.25" r="1.65" fill="#fff" stroke="#000" stroke-width="1.1"/>
<circle cx="331.90" cy="225.50" r="1.65" fill="#fff" stroke="#000" stroke-width="1.1"/>
<circle cx="319.00" cy="227.60" r="1.65" fill="#fff" stroke="#000" stroke-width="1.1"/>
<circle cx="323.75" cy="226.75" r="1.65" fill="#fff" stroke="#000" stroke-width="1.1"/>
<circle cx="323.75" cy="228.90" r="1.65" fill="#fff" stroke="#000" stroke-width="1.1"/>
<circle cx="329.40" cy="228.00" r="1.65" fill="#fff" stroke="#000" stroke-width="1.1"/>
<circle cx="323.75" cy="231.00" r="1.65" fill="#fff" stroke="#000" stroke-width="1.1"/>
<circle cx="323.75" cy="238.00" r="1.65" fill="#fff" stroke="#000" stroke-width="1.1"/>
<circle cx="323.75" cy="255.60" r="1.65" fill="#fff" stroke="#000" stroke-width="1.1"/>
<circle cx="329.40" cy="253.50" r="1.65" fill="#fff" stroke="#000" stroke-width="1.1"/>
<text x="364.40" y="154.50" font-size="12.0" font-weight="normal" text-anchor="start" fill="#000" stroke="#000" stroke-width="0.45">F</text>
<text x="445.00" y="156.50" font-size="8.9" font-weight="bold" text-anchor="middle" fill="#000" stroke="#000" stroke-width="0.42">Vcam1</text>
<line x1="391.60" y1="159.50" x2="391.60" y2="259.60" stroke="#000" stroke-width="1.4" stroke-linecap="butt"/>
<line x1="390.90" y1="258.90" x2="520.00" y2="258.90" stroke="#000" stroke-width="1.4" stroke-linecap="butt"/>
<line x1="389.20" y1="258.90" x2="391.60" y2="258.90" stroke="#000" stroke-width="0.9" stroke-linecap="butt"/>
<text x="385.80" y="260.70" font-size="6.65" font-weight="bold" text-anchor="end" fill="#000" stroke="#000" stroke-width="0.42">0</text>
<line x1="389.20" y1="239.12" x2="391.60" y2="239.12" stroke="#000" stroke-width="0.9" stroke-linecap="butt"/>
<text x="385.80" y="241.24" font-size="6.65" font-weight="bold" text-anchor="end" fill="#000" stroke="#000" stroke-width="0.42">10 000</text>
<line x1="389.20" y1="219.34" x2="391.60" y2="219.34" stroke="#000" stroke-width="0.9" stroke-linecap="butt"/>
<text x="385.80" y="221.78" font-size="6.65" font-weight="bold" text-anchor="end" fill="#000" stroke="#000" stroke-width="0.42">20 000</text>
<line x1="389.20" y1="199.56" x2="391.60" y2="199.56" stroke="#000" stroke-width="0.9" stroke-linecap="butt"/>
<text x="385.80" y="202.32" font-size="6.65" font-weight="bold" text-anchor="end" fill="#000" stroke="#000" stroke-width="0.42">30 000</text>
<line x1="389.20" y1="179.78" x2="391.60" y2="179.78" stroke="#000" stroke-width="0.9" stroke-linecap="butt"/>
<text x="385.80" y="182.86" font-size="6.65" font-weight="bold" text-anchor="end" fill="#000" stroke="#000" stroke-width="0.42">40 000</text>
<line x1="389.20" y1="160.00" x2="391.60" y2="160.00" stroke="#000" stroke-width="0.9" stroke-linecap="butt"/>
<text x="385.80" y="163.40" font-size="6.65" font-weight="bold" text-anchor="end" fill="#000" stroke="#000" stroke-width="0.42">50 000</text>
<line x1="407.50" y1="258.90" x2="407.50" y2="261.90" stroke="#000" stroke-width="0.9" stroke-linecap="butt"/>
<line x1="439.50" y1="258.90" x2="439.50" y2="261.90" stroke="#000" stroke-width="0.9" stroke-linecap="butt"/>
<line x1="471.30" y1="258.90" x2="471.30" y2="261.90" stroke="#000" stroke-width="0.9" stroke-linecap="butt"/>
<line x1="503.30" y1="258.90" x2="503.30" y2="261.90" stroke="#000" stroke-width="0.9" stroke-linecap="butt"/>
<text x="402.30" y="268.90" font-size="6.6" font-weight="bold" text-anchor="start" fill="#000" stroke="#000" stroke-width="0.42">WT</text>
<text x="402.30" y="277.70" font-size="6.6" font-weight="bold" text-anchor="start" fill="#000" stroke="#000" stroke-width="0.42">marrow</text>
<text x="437.20" y="268.90" font-size="6.6" font-weight="bold" text-anchor="start" fill="#000" stroke="#000" stroke-width="0.42">KI</text>
<text x="437.20" y="277.70" font-size="6.6" font-weight="bold" text-anchor="start" fill="#000" stroke="#000" stroke-width="0.42">marrow</text>
<text x="468.00" y="268.90" font-size="6.6" font-weight="bold" text-anchor="start" fill="#000" stroke="#000" stroke-width="0.42">WT</text>
<text x="468.00" y="277.70" font-size="6.6" font-weight="bold" text-anchor="start" fill="#000" stroke="#000" stroke-width="0.42">spleen</text>
<text x="497.20" y="268.90" font-size="6.6" font-weight="bold" text-anchor="start" fill="#000" stroke="#000" stroke-width="0.42">APL</text>
<text x="497.20" y="277.70" font-size="6.6" font-weight="bold" text-anchor="start" fill="#000" stroke="#000" stroke-width="0.42">spleen</text>
<text x="407.70" y="171.80" font-size="5.9" fill="#000" stroke="#000" stroke-width="0.3"><tspan font-style="italic">P</tspan>=.068</text>
<polyline points="407.00,180.60 407.00,174.40 440.00,174.40 440.00,180.60" fill="none" stroke="#000" stroke-width="0.85" stroke-linejoin="miter"/>
<text x="462.70" y="171.80" font-size="5.9" fill="#000" stroke="#000" stroke-width="0.3"><tspan font-style="italic">P</tspan>=.002</text>
<polyline points="462.20,180.60 462.20,174.40 495.60,174.40" fill="none" stroke="#000" stroke-width="0.85" stroke-linejoin="miter"/>
<line x1="396.50" y1="231.25" x2="418.50" y2="231.25" stroke="#000" stroke-width="1.0" stroke-linecap="butt"/>
<rect x="400.70" y="225.10" width="2.8" height="2.8" fill="#fff" stroke="#000" stroke-width="1.0"/>
<rect x="406.10" y="226.70" width="2.8" height="2.8" fill="#fff" stroke="#000" stroke-width="1.0"/>
<rect x="406.10" y="234.20" width="2.8" height="2.8" fill="#fff" stroke="#000" stroke-width="1.0"/>
<rect x="411.10" y="232.10" width="2.8" height="2.8" fill="#fff" stroke="#000" stroke-width="1.0"/>
<line x1="428.75" y1="239.00" x2="450.60" y2="239.00" stroke="#000" stroke-width="1.0" stroke-linecap="butt"/>
<polygon points="439.60,231.90 441.45,233.75 439.60,235.60 437.75,233.75" fill="#fff" stroke="#000" stroke-width="1.0"/>
<polygon points="444.60,237.90 446.45,239.75 444.60,241.60 442.75,239.75" fill="#fff" stroke="#000" stroke-width="1.0"/>
<polygon points="439.60,241.65 441.45,243.50 439.60,245.35 437.75,243.50" fill="#fff" stroke="#000" stroke-width="1.0"/>
<line x1="460.00" y1="229.60" x2="482.50" y2="229.60" stroke="#000" stroke-width="1.0" stroke-linecap="butt"/>
<polygon points="466.25,225.85 468.06,229.08 464.44,229.08" fill="#fff" stroke="#000" stroke-width="1.0"/>
<polygon points="471.50,226.20 473.31,229.43 469.69,229.43" fill="#fff" stroke="#000" stroke-width="1.0"/>
<polygon points="476.50,222.85 478.31,226.08 474.69,226.08" fill="#fff" stroke="#000" stroke-width="1.0"/>
<polygon points="471.50,235.60 473.31,238.83 469.69,238.83" fill="#fff" stroke="#000" stroke-width="1.0"/>
<line x1="492.25" y1="210.50" x2="514.40" y2="210.50" stroke="#000" stroke-width="1.0" stroke-linecap="butt"/>
<circle cx="497.75" cy="168.75" r="1.65" fill="#fff" stroke="#000" stroke-width="1.1"/>
<circle cx="503.10" cy="172.75" r="1.65" fill="#fff" stroke="#000" stroke-width="1.1"/>
<circle cx="503.10" cy="183.50" r="1.65" fill="#fff" stroke="#000" stroke-width="1.1"/>
<circle cx="503.10" cy="192.20" r="1.65" fill="#fff" stroke="#000" stroke-width="1.1"/>
<circle cx="497.75" cy="203.00" r="1.65" fill="#fff" stroke="#000" stroke-width="1.1"/>
<circle cx="497.75" cy="205.50" r="1.65" fill="#fff" stroke="#000" stroke-width="1.1"/>
<circle cx="503.10" cy="204.50" r="1.65" fill="#fff" stroke="#000" stroke-width="1.1"/>
<circle cx="508.50" cy="203.90" r="1.65" fill="#fff" stroke="#000" stroke-width="1.1"/>
<circle cx="503.10" cy="211.00" r="1.65" fill="#fff" stroke="#000" stroke-width="1.1"/>
<circle cx="497.75" cy="215.10" r="1.65" fill="#fff" stroke="#000" stroke-width="1.1"/>
<circle cx="503.10" cy="218.25" r="1.65" fill="#fff" stroke="#000" stroke-width="1.1"/>
<circle cx="508.50" cy="217.60" r="1.65" fill="#fff" stroke="#000" stroke-width="1.1"/>
<circle cx="497.75" cy="224.30" r="1.65" fill="#fff" stroke="#000" stroke-width="1.1"/>
<circle cx="503.10" cy="225.00" r="1.65" fill="#fff" stroke="#000" stroke-width="1.1"/>
<circle cx="497.75" cy="233.10" r="1.65" fill="#fff" stroke="#000" stroke-width="1.1"/>
<circle cx="503.10" cy="234.40" r="1.65" fill="#fff" stroke="#000" stroke-width="1.1"/>
<circle cx="505.60" cy="231.25" r="1.65" fill="#fff" stroke="#000" stroke-width="1.1"/>
<circle cx="508.50" cy="234.00" r="1.65" fill="#fff" stroke="#000" stroke-width="1.1"/>
</g>
</svg>
</body>
</html>
